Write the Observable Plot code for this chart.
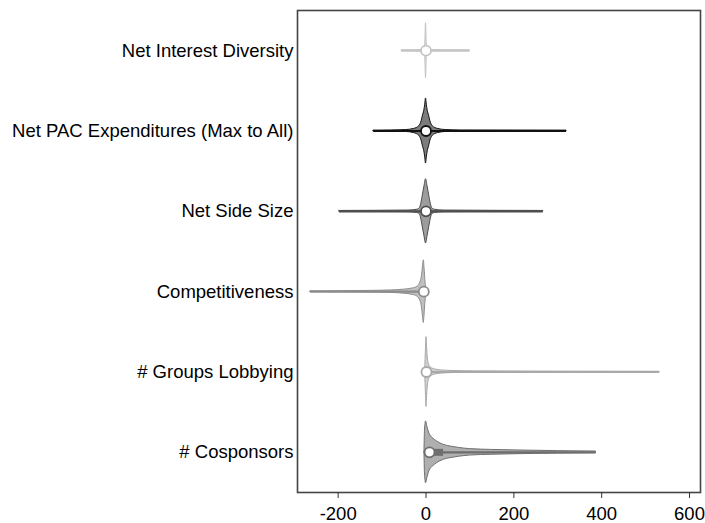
<!DOCTYPE html>
<html><head><meta charset="utf-8">
<script src="https://cdn.jsdelivr.net/npm/d3@7"></script>
<script src="https://cdn.jsdelivr.net/npm/@observablehq/plot@0.6"></script>
<style>body{margin:0;background:#fff}</style>
</head><body><div id="chart"></div>
<script>
const categories = ["Net Interest Diversity", "Net PAC Expenditures (Max to All)", "Net Side Size", "Competitiveness", "# Groups Lobbying", "# Cosponsors"];
const whiskerLow  = [-55, -119, -197, -263, 0, 0];
const whiskerHigh = [100, 320, 267, 0, 532, 387];
const medians     = [0, 0, 0, -5, 1, 8];
const q1          = [-1, -4, -4, -9, 0, 1];
const q3          = [1, 5, 4, -2, 3, 40];
const xTicks = [-200, 0, 200, 400, 600];

// density profiles: [value, half-height in category units]
const densityInterest = [[-55,0.004],[-20,0.006],[-6,0.012],[-2,0.06],[0,0.342],[2,0.06],[6,0.012],[20,0.006],[100,0.004]];
const densityPAC = [[-119,0.005],[-80,0.007],[-45,0.012],[-28,0.025],[-20,0.04],[-14,0.07],[-10,0.12],[-7,0.19],[-4,0.25],[-2,0.32],[0,0.405],[2,0.32],[4,0.25],[7,0.19],[10,0.12],[14,0.07],[20,0.04],[28,0.025],[45,0.012],[80,0.007],[320,0.005]];
const densitySide = [[-197,0.005],[-40,0.01],[-20,0.02],[-14,0.04],[-11,0.09],[-7.5,0.19],[-3.5,0.31],[0,0.40],[3.5,0.31],[7.5,0.19],[11,0.09],[14,0.04],[20,0.02],[40,0.01],[267,0.005]];
const densityComp = [[-263,0.004],[-150,0.008],[-80,0.015],[-50,0.025],[-30,0.04],[-20,0.06],[-14,0.1],[-10,0.17],[-8,0.25],[-6.5,0.33],[-5,0.39],[-3.5,0.3],[-2,0.18],[0,0.06],[2,0.02],[4,0]];
const densityGroups = [[-2,0],[-1,0.15],[0,0.3],[1,0.435],[2.5,0.3],[4,0.18],[6,0.11],[9,0.07],[14,0.045],[22,0.03],[35,0.02],[60,0.013],[120,0.008],[300,0.005],[532,0.003]];
const densityCosp = [[-3.5,0],[-2.5,0.25],[-1,0.36],[0,0.385],[3,0.32],[6,0.26],[10,0.21],[17,0.17],[25,0.135],[33,0.11],[45,0.085],[56,0.072],[75,0.055],[100,0.04],[150,0.03],[220,0.022],[300,0.015],[387,0.01]];
const densities = [densityInterest, densityPAC, densitySide, densityComp, densityGroups, densityCosp];

const lineColors = ["#c4c4c4", "#111111", "#4d4d4d", "#8c8c8c", "#a9a9a9", "#6e6e6e"];

const violinRows = densities.flatMap((d, k) => d.map(([x, h]) => ({cat: categories[k], x, y1: k - h, y2: k + h})));
const summary = categories.map((cat, k) => ({cat, k, lo: whiskerLow[k], hi: whiskerHigh[k], med: medians[k], q1: q1[k], q3: q3[k]}));

const chart = Plot.plot({
  width: 705, height: 523,
  marginLeft: 297, marginRight: 5, marginTop: 10, marginBottom: 31,
  style: {fontFamily: "Helvetica, 'Liberation Sans', Arial, sans-serif", fontSize: "18.5px", color: "#000", background: "#fff"},
  x: {domain: [-292.6, 625]},
  y: {domain: [-0.5, 5.5], reverse: true},
  color: {domain: categories, range: lineColors},
  marks: [
    Plot.areaY(violinRows, {x: "x", y1: "y1", y2: "y2", z: "cat", fill: "cat", fillOpacity: 0.55, stroke: "cat", strokeWidth: 1, curve: "monotone-x"}),
    Plot.ruleY(summary, {y: "k", x1: "lo", x2: "hi", stroke: "cat", strokeWidth: 2.2}),
    Plot.ruleY(summary, {y: "k", x1: "q1", x2: "q3", stroke: "cat", strokeWidth: 7}),
    Plot.dot(summary, {x: "med", y: "k", r: 5, fill: "white", stroke: "cat", strokeWidth: 1.8}),
    Plot.frame({stroke: "#444", strokeWidth: 1.6}),
    Plot.axisY({ticks: [0,1,2,3,4,5], tickFormat: i => categories[i], tickSize: 0, tickPadding: 4, label: null, fontSize: 18.5}),
    Plot.axisX({ticks: xTicks, tickFormat: d => String(d), tickSize: 6, tickPadding: 8, label: null, fontSize: 18.5, stroke: "#333"})
  ]
});
document.getElementById("chart").append(chart);
</script>
</body></html>
